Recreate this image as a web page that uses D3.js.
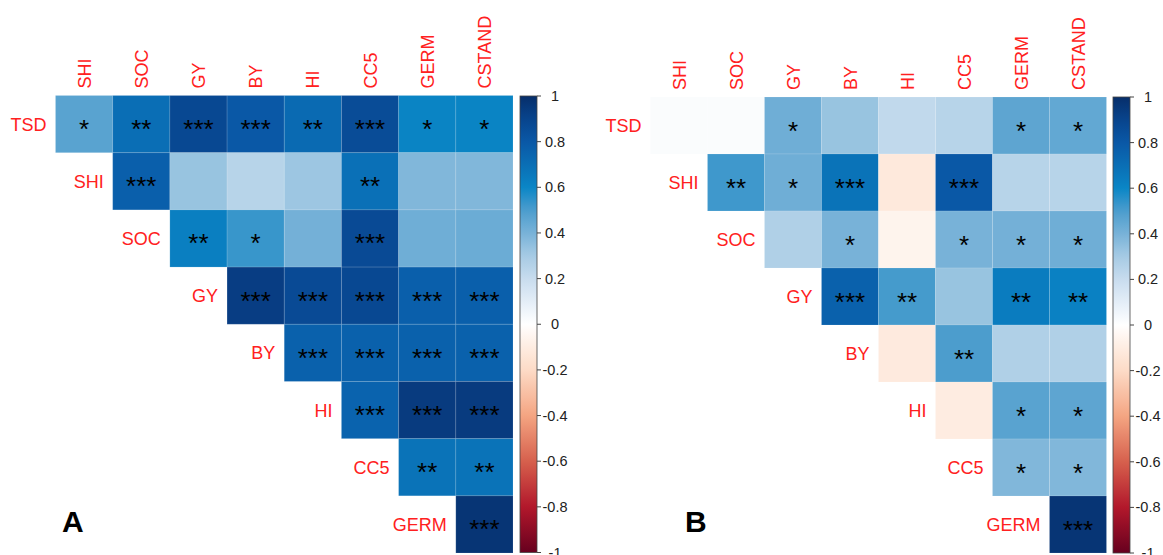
<!DOCTYPE html>
<html>
<head>
<meta charset="utf-8">
<script src="https://cdn.jsdelivr.net/npm/d3@7"></script>
<style>
  html, body { margin: 0; padding: 0; background: #ffffff; }
  svg { display: block; font-family: Arial, "Liberation Sans", sans-serif; }
</style>
</head>
<body>
<svg id="chart" width="1163" height="555"></svg>
<script>
// Variables on each axis of the upper-triangular correlation matrices
const rowVars = ["TSD", "SHI", "SOC", "GY", "BY", "HI", "CC5", "GERM"];
const colVars = ["SHI", "SOC", "GY", "BY", "HI", "CC5", "GERM", "CSTAND"];

// Panel A: row r holds correlations with columns r..7
const corrA = [
  [0.47, 0.70, 0.88, 0.80, 0.72, 0.86, 0.61, 0.61],
  [0.77, 0.33, 0.25, 0.32, 0.69, 0.38, 0.38],
  [0.63, 0.53, 0.41, 0.87, 0.42, 0.43],
  [0.93, 0.87, 0.88, 0.77, 0.77],
  [0.76, 0.76, 0.76, 0.76],
  [0.75, 0.94, 0.94],
  [0.68, 0.68],
  [0.97]
];
const sigA = [
  ["*", "**", "***", "***", "**", "***", "*", "*"],
  ["***", "", "", "", "**", "", ""],
  ["**", "*", "", "***", "", ""],
  ["***", "***", "***", "***", "***"],
  ["***", "***", "***", "***"],
  ["***", "***", "***"],
  ["**", "**"],
  ["***"]
];

// Panel B
const corrB = [
  [0.02, 0.02, 0.42, 0.33, 0.22, 0.25, 0.46, 0.45],
  [0.52, 0.42, 0.68, -0.12, 0.80, 0.25, 0.25],
  [0.27, 0.40, -0.06, 0.40, 0.41, 0.42],
  [0.76, 0.51, 0.33, 0.64, 0.62],
  [-0.11, 0.50, 0.27, 0.27],
  [-0.10, 0.47, 0.46],
  [0.38, 0.38],
  [0.97]
];
const sigB = [
  ["", "", "*", "", "", "", "*", "*"],
  ["**", "*", "***", "", "***", "", ""],
  ["", "*", "", "*", "*", "*"],
  ["***", "**", "", "**", "**"],
  ["", "**", "", ""],
  ["", "*", "*"],
  ["*", "*"],
  ["***"]
];

// Colour-bar ticks
const barTicks = [1, 0.8, 0.6, 0.4, 0.2, 0, -0.2, -0.4, -0.6, -0.8, -1];
const barTickLabels = ["1", "0.8", "0.6", "0.4", "0.2", "0", "-0.2", "-0.4", "-0.6", "-0.8", "-1"];

// Diverging red-white-blue palette
const colorStops = [-1, -0.8, -0.6, -0.4, -0.2, -0.1, 0, 0.1, 0.2, 0.3, 0.4, 0.5, 0.6, 0.7, 0.8, 0.9, 1];
const colorRange = ["#67001f", "#b2182b", "#d6604d", "#f4a582", "#fddbc7", "#feece1", "#ffffff",
  "#e4eef7", "#c8dcee", "#a6cbe4", "#78b2d8", "#4c9dcd", "#0a86c6", "#0a6eb5", "#0a58a6", "#08448d", "#072e6a"];
const color = d3.scaleLinear().domain(colorStops).range(colorRange).interpolate(d3.interpolateRgb);

const svg = d3.select("#chart");
const defs = svg.append("defs");

// Gradient shared by both colour bars (top = +1, bottom = -1)
const grad = defs.append("linearGradient")
  .attr("id", "barGrad").attr("x1", 0).attr("y1", 0).attr("x2", 0).attr("y2", 1);
d3.range(0, 1.0001, 0.02).forEach(t => {
  grad.append("stop").attr("offset", t).attr("stop-color", color(1 - 2 * t));
});

function drawPanel(cfg) {
  const g = svg.append("g");
  const x = d3.scaleBand().domain(colVars).range([cfg.gx, cfg.gx + cfg.size]);
  const y = d3.scaleBand().domain(rowVars).range([cfg.gy, cfg.gy + cfg.size]);

  const cells = [];
  cfg.values.forEach((row, r) => {
    row.forEach((v, k) => {
      const c = r + k;
      cells.push({ row: rowVars[r], col: colVars[c], v: v, sig: cfg.sig[r][k] });
    });
  });

  g.selectAll("rect.cell").data(cells).enter().append("rect")
    .attr("class", "cell")
    .attr("x", d => x(d.col))
    .attr("y", d => y(d.row))
    .attr("width", x.bandwidth())
    .attr("height", y.bandwidth())
    .attr("fill", d => color(d.v))
    .attr("stroke", "#ffffff")
    .attr("stroke-opacity", 0.12)
    .attr("stroke-width", 1);

  // Significance stars, centred in each cell
  g.selectAll("text.sig").data(cells.filter(d => d.sig)).enter().append("text")
    .attr("class", "sig")
    .attr("x", d => x(d.col) + x.bandwidth() / 2)
    .attr("y", d => y(d.row) + y.bandwidth() / 2 + 14)
    .attr("text-anchor", "middle")
    .attr("font-size", 26)
    .attr("fill", "#000")
    .text(d => d.sig);

  // Column headers (rotated)
  g.selectAll("text.colLab").data(colVars).enter().append("text")
    .attr("class", "colLab")
    .attr("transform", d => `translate(${x(d) + x.bandwidth() / 2 + 6.5},${cfg.gy - 7}) rotate(-90)`)
    .attr("font-size", 18)
    .attr("fill", "#ff2020")
    .text(d => d);

  // Row labels, placed left of the diagonal cell
  g.selectAll("text.rowLab").data(rowVars).enter().append("text")
    .attr("class", "rowLab")
    .attr("x", (d, i) => x(colVars[i]) - 9)
    .attr("y", d => y(d) + y.bandwidth() / 2 + 6.5)
    .attr("text-anchor", "end")
    .attr("font-size", 18)
    .attr("fill", "#ff2020")
    .text(d => d);

  // Colour bar
  const bar = d3.scaleLinear().domain([1, -1]).range([cfg.barTop, cfg.barBottom]);
  g.append("rect")
    .attr("x", cfg.barX).attr("y", cfg.barTop)
    .attr("width", cfg.barW).attr("height", cfg.barBottom - cfg.barTop)
    .attr("fill", "url(#barGrad)")
    .attr("stroke", "#444").attr("stroke-width", 0.8);

  g.selectAll("line.tick").data(barTicks).enter().append("line")
    .attr("x1", cfg.barX + cfg.barW).attr("x2", cfg.barX + cfg.barW + 4)
    .attr("y1", d => bar(d)).attr("y2", d => bar(d))
    .attr("stroke", "#444").attr("stroke-width", 1);

  g.selectAll("text.tickLab").data(barTicks).enter().append("text")
    .attr("class", "tickLab")
    .attr("x", cfg.barX + cfg.barW + 18)
    .attr("y", d => bar(d) + 5)
    .attr("text-anchor", "middle")
    .attr("font-size", 14.5)
    .attr("fill", "#222")
    .text((d, i) => barTickLabels[i]);

  // Panel letter
  g.append("text")
    .attr("x", cfg.letterX).attr("y", 532)
    .attr("font-size", 30).attr("font-weight", "bold")
    .attr("fill", "#000")
    .text(cfg.letter);
}

drawPanel({ values: corrA, sig: sigA, gx: 55.5, gy: 95.5, size: 457.5,
  barX: 520, barW: 17, barTop: 96, barBottom: 552.5, letter: "A", letterX: 62 });
drawPanel({ values: corrB, sig: sigB, gx: 650.5, gy: 97, size: 456,
  barX: 1113, barW: 17, barTop: 97, barBottom: 553, letter: "B", letterX: 685 });
</script>
</body>
</html>
